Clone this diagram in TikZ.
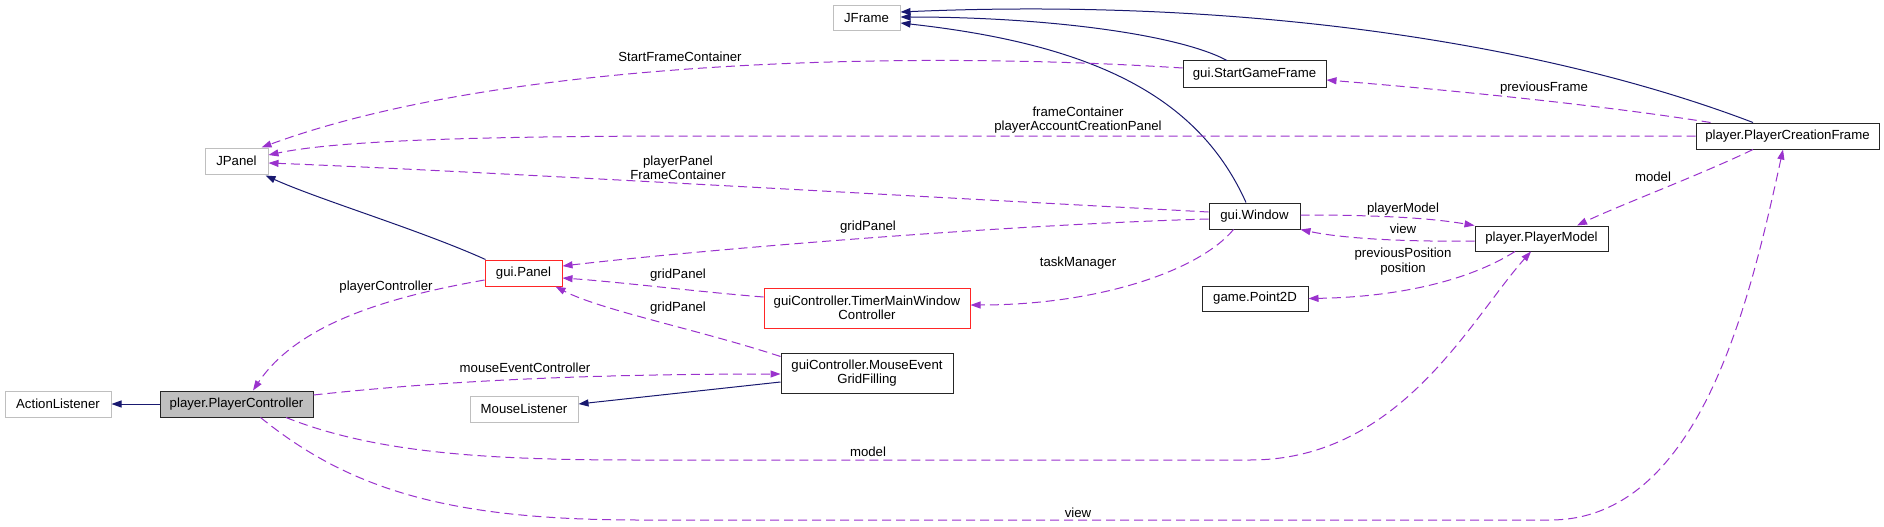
\documentclass[tikz,border=0pt]{standalone}
\usepackage{fontspec}
\setmainfont{Liberation Sans}
\usetikzlibrary{arrows.meta,calc}
\definecolor{edgeblue}{HTML}{191970}
\definecolor{edgepurple}{HTML}{9A32CD}
\definecolor{extgray}{HTML}{BFBFBF}
\definecolor{selfill}{HTML}{BFBFBF}
\begin{document}
\begin{tikzpicture}[x=1pt,y=-1pt,
  font=\fontsize{13.2}{14.5}\selectfont,
  cls/.style={draw=black!85, line width=1pt, inner sep=0pt, minimum height=26pt, align=center},
  extcls/.style={cls, draw=extgray},
  redcls/.style={cls, draw=red!85},
  inh/.style={draw=edgeblue, line width=1pt, -{Triangle[length=10pt,width=7pt]}},
  usage/.style={draw=edgepurple, line width=1pt, dash pattern=on 9pt off 5pt, -{Triangle[length=10pt,width=7pt]}},
  lbl/.style={inner sep=0pt, align=center}]
\useasboundingbox (0,0) rectangle (1884,527);
\fill[white] (0,0) rectangle (1884,527);

% nodes
\node[extcls, minimum width=63pt] (jpanel) at (236.5,161) {JPanel};
\node[extcls, minimum width=106pt] (actionl) at (58,404) {ActionListener};
\node[cls, fill=selfill, minimum width=153pt] (pctrl) at (236.5,404) {player.PlayerController};
\node[redcls, minimum width=77pt] (guipanel) at (523.5,273) {gui.Panel};
\node[extcls, minimum width=108pt] (mousel) at (524,409) {MouseListener};
\node[extcls, minimum width=67pt, minimum height=25pt] (jframe) at (866.5,18.5) {JFrame};
\node[cls, minimum width=143pt] (startgf) at (1254.5,74) {gui.StartGameFrame};
\node[cls, minimum width=91pt] (window) at (1254.5,216) {gui.Window};
\node[redcls, minimum width=206pt, minimum height=40pt] (timer) at (867,308) {guiController.TimerMainWindow\\Controller};
\node[cls, minimum width=172pt, minimum height=40pt] (megf) at (867,373) {guiController.MouseEvent\\GridFilling};
\node[cls, minimum width=106pt, minimum height=25pt] (point2d) at (1255,298.5) {game.Point2D};
\node[cls, minimum width=133pt, minimum height=25pt] (pmodel) at (1541.5,238.5) {player.PlayerModel};
\node[cls, minimum width=183pt] (pcf) at (1787.5,136) {player.PlayerCreationFrame};

% inheritance
\draw[inh] (pctrl) -- (actionl);
\draw[inh] ($(guipanel.north west)+(1,0)$) .. controls (420,230) and (320,200) .. ($(jpanel.south east)+(-3,1)$);
\draw[inh] ($(megf.west)+(0,9)$) -- ($(mousel.east)+(0,-5)$);
\draw[inh] ($(startgf.north)+(-27.5,0)$) .. controls (1180,35) and (1050,17) .. ($(jframe.east)+(0,-1.5)$);
\draw[inh] ($(window.north)+(-8.5,0)$) .. controls (1200,100) and (1100,45) .. ($(jframe.east)+(0,4.5)$);
\draw[inh] ($(pcf.north)+(-34.5,0)$) .. controls (1550,45) and (1250,-3) .. ($(jframe.east)+(0,-6.5)$);

% usage
\draw[usage] ($(startgf.west)+(0,-6)$) .. controls (900,50) and (500,60) .. ($(jpanel.north east)+(-7,0)$);
\node[lbl] (l1) at (680,57) {StartFrameContainer};

\draw[usage] (pcf.west) -- (700,136) .. controls (450,136) and (330,142) .. ($(jpanel.east)+(0,-6)$);
\node[lbl] (l2) at (1078,120) {frameContainer\\playerAccountCreationPanel};

\draw[usage] ($(window.west)+(0,-4)$) .. controls (800,190) and (450,170) .. ($(jpanel.east)+(0,2)$);
\node[lbl] (l3) at (678,168) {playerPanel\\FrameContainer};

\draw[usage] ($(window.west)+(0,3)$) .. controls (1000,225) and (700,250) .. ($(guipanel.east)+(0,-7)$);
\node[lbl] (l4) at (868,227) {gridPanel};

\draw[usage] ($(timer.west)+(0,-11)$) .. controls (700,292) and (620,282) .. ($(guipanel.east)+(0,5)$);
\node[lbl] (l5) at (678,275) {gridPanel};

\draw[usage] ($(megf.north west)+(0,4)$) .. controls (700,330) and (600,310) .. ($(guipanel.south east)+(-7,0)$);
\node[lbl] (l6) at (678,308) {gridPanel};

\draw[usage] ($(guipanel.west)+(0,7)$) .. controls (400,295) and (300,320) .. ($(pctrl.north)+(16.5,0)$);
\node[lbl] (l7) at (386,287) {playerController};

\draw[usage] ($(pctrl.east)+(0,-9)$) .. controls (450,380) and (600,374) .. ($(megf.west)+(0,1)$);
\node[lbl] (l8) at (525,368) {mouseEventController};

\draw[usage] ($(pctrl.south)+(49.5,0)$) .. controls (380,455) and (500,460) .. (640,460) -- (1250,460) .. controls (1400,460) and (1470,320) .. ($(pmodel.south)+(-10.5,0)$);
\node[lbl] (l9) at (868,452) {model};

\draw[usage] ($(pctrl.south)+(24,0)$) .. controls (350,490) and (450,520) .. (640,520) -- (1550,520) .. controls (1700,520) and (1750,300) .. ($(pcf.south)+(-4.5,0)$);
\node[lbl] (l10) at (1078,513) {view};

\draw[usage] ($(window.east)+(0,-1)$) .. controls (1380,215) and (1430,218) .. (pmodel.north west);
\node[lbl] (l11) at (1403,209) {playerModel};

\draw[usage] ($(pmodel.west)+(0,2.5)$) .. controls (1400,242) and (1340,238) .. (window.south east);
\node[lbl] (l12) at (1403,229) {view};

\draw[usage] ($(pcf.south)+(-34.5,0)$) .. controls (1700,175) and (1620,205) .. ($(pmodel.north)+(35.5,0)$);
\node[lbl] (l13) at (1653,177) {model};

\draw[usage] ($(pcf.north west)+(15,0)$) .. controls (1600,105) and (1450,90) .. ($(startgf.east)+(0,6)$);
\node[lbl] (l14) at (1544,88) {previousFrame};

\draw[usage] ($(window.south)+(-21,0)$) .. controls (1200,270) and (1100,305) .. ($(timer.east)+(0,-3)$);
\node[lbl] (l15) at (1078,263) {taskManager};

\draw[usage] ($(pmodel.south)+(-26.5,0)$) .. controls (1470,280) and (1400,297) .. (point2d.east);
\node[lbl] (l16) at (1403,261.5) {previousPosition\\position};
\end{tikzpicture}
\end{document}
